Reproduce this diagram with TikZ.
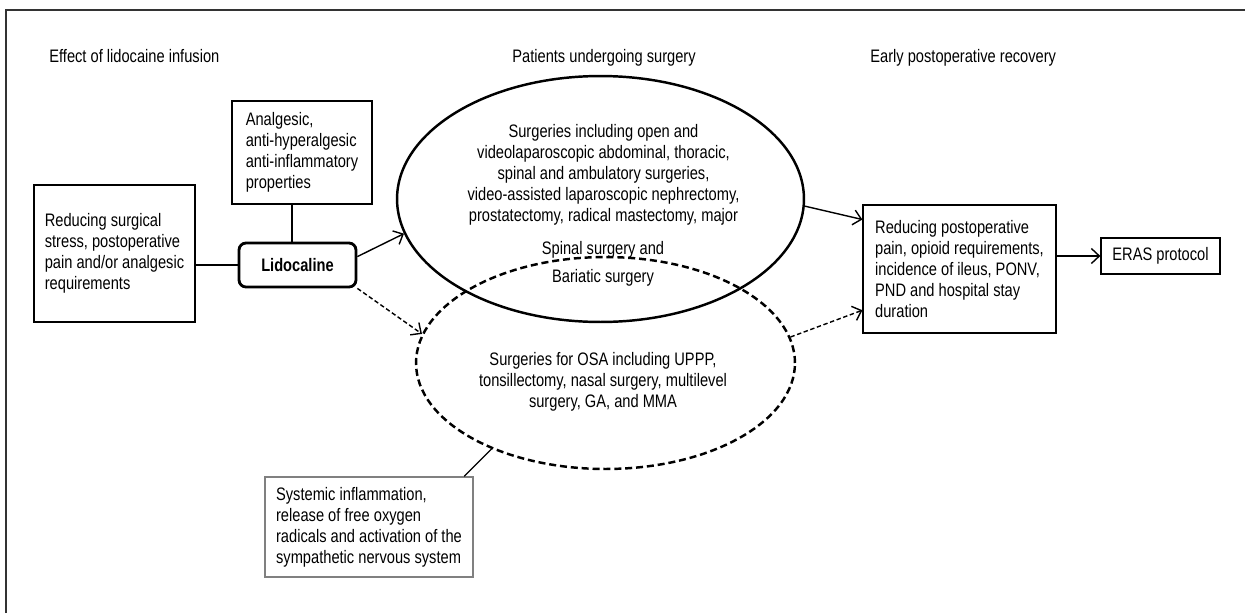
\documentclass[tikz,border=0pt]{standalone}
\usepackage{fontspec}
\setmainfont{Liberation Sans}[FakeStretch=0.81]
\usetikzlibrary{shapes.geometric,arrows.meta,positioning}
\newcommand{\figfont}{\fontsize{10.3}{11.9}\selectfont}
\tikzset
{
  infobox/.style  = {rectangle, draw=black, line width=0.7pt, align=left, inner sep=0pt, font=\figfont},
  drugbox/.style  = {rectangle, rounded corners=4pt, draw=black, line width=1.6pt, inner sep=0pt, minimum width=2.34cm, minimum height=0.88cm, font=\figfont\bfseries},
  groupset/.style = {ellipse, draw=black, line width=1.4pt, inner sep=0pt},
  osaset/.style   = {groupset, dash pattern=on 4pt off 2.2pt},
  heading/.style  = {anchor=base west, inner sep=0pt, font=\figfont},
  settext/.style  = {align=center, inner sep=0pt, font=\figfont},
  link/.style     = {line width=0.7pt},
  effect/.style   = {->, line width=0.8pt},
  weakeffect/.style = {effect, dash pattern=on 2.5pt off 1.5pt}
}

\begin{document}
\begin{tikzpicture}[x=0.02cm, y=-0.02cm, >={Straight Barb[length=1.6mm,width=3mm]}]
  \useasboundingbox (0,0) rectangle (1245,613);
  % frame
  \draw[line width=0.6pt, black!80] (6,613) -- (6,10) -- (1245,10);

  % headings
  \node [heading] (hEffect) at (49,62) {Effect of lidocaine infusion};
  \node [heading] (hPatients) at (512,62) {Patients undergoing surgery};
  \node [heading] (hRecovery) at (870,62) {Early postoperative recovery};

  % left column
  \node [infobox, minimum width=2.8cm, minimum height=2.06cm] (anal) at (302,152.5)
    {Analgesic,\\anti-hyperalgesic\\anti-inflammatory\\properties};
  \node [infobox, minimum width=3.22cm, minimum height=2.74cm] (red) at (114.5,253.5)
    {Reducing surgical\\stress, postoperative\\pain and/or analgesic\\requirements};
  \node [drugbox] (lido) at (297.5,265) {Lidocaline};
  \node [infobox, draw=black!50, minimum width=4.16cm, minimum height=2cm] (sys) at (369,527)
    {Systemic inflammation,\\release of free oxygen\\radicals and activation of the\\sympathetic nervous system};

  % surgery groups
  \node [groupset, minimum width=8.14cm, minimum height=4.92cm] (surg) at (600.5,199) {};
  \node [osaset, minimum width=7.58cm, minimum height=4.24cm] (osa) at (605.5,363) {};
  \node [settext] (surgtext) at (603.5,174.5)
    {Surgeries including open and\\videolaparoscopic abdominal, thoracic,\\spinal and ambulatory surgeries,\\video-assisted laparoscopic nephrectomy,\\prostatectomy, radical mastectomy, major};
  \node [settext] (spinetext) at (603,264) {Spinal surgery and\\[4pt]Bariatic surgery};
  \node [settext] (osatext) at (603,382)
    {Surgeries for OSA including UPPP,\\tonsillectomy, nasal surgery, multilevel\\surgery, GA, and MMA};

  % right column
  \node [infobox, minimum width=3.86cm, minimum height=2.56cm] (rec) at (959.5,269)
    {Reducing postoperative\\pain, opioid requirements,\\incidence of ileus, PONV,\\PND and hospital stay\\duration};
  \node [infobox, align=center, minimum width=2.38cm, minimum height=0.72cm] (eras) at (1160.5,256) {ERAS protocol};

  % connectors
  \draw [link] (lido.west) -- (lido.west -| red.east);
  \draw [link] ([xshift=-0.11cm]lido.north) -- ([xshift=-0.11cm]lido.north |- anal.south);
  \draw [link] (sys.28) -- (osa.217);
  \draw [effect] (lido.8) -- (surg.190);
  \draw [weakeffect] (lido.south east) -- (osa.171);
  \draw [effect] (surg.-2) -- (rec.153);
  \draw [weakeffect] (osa.8) -- (rec.203);
  \draw [effect] (rec.east |- eras.west) -- (eras.west);
\end{tikzpicture}
\end{document}
